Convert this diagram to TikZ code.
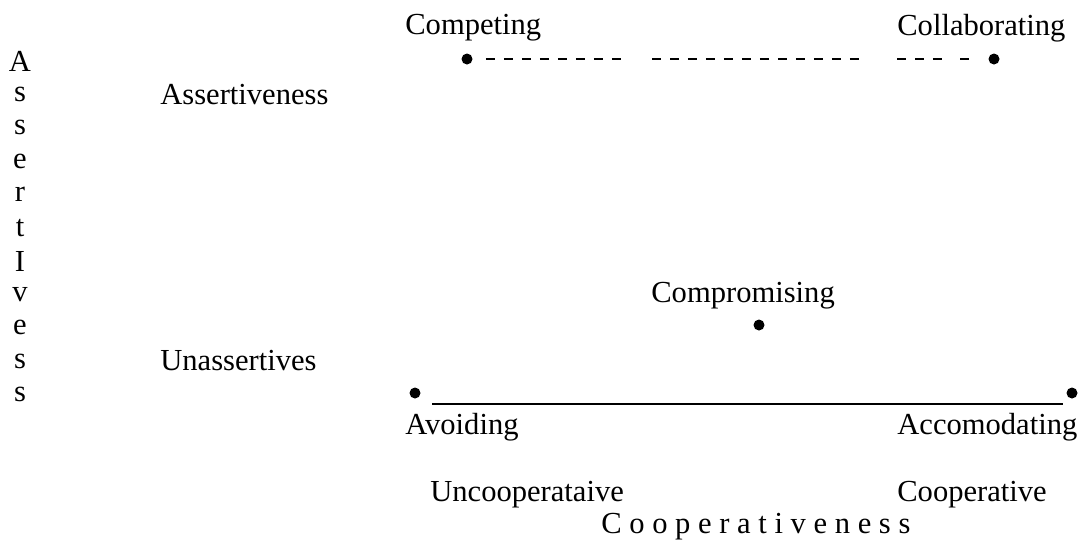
\documentclass[tikz,border=0pt]{standalone}
\usepackage{fontspec}
\setmainfont{Liberation Serif}
\usetikzlibrary{positioning}
\tikzset{
  lbl/.style    = {inner sep=0pt, anchor=west, font=\fontsize{17.4}{20}\selectfont},
  letter/.style = {inner sep=0pt, font=\fontsize{17.4}{20}\selectfont},
  pt/.style     = {circle, fill=black, inner sep=0pt, minimum size=0.22cm},
  dsh/.style    = {line width=1pt, dash pattern=on 0.18cm off 0.18cm},
  axis/.style   = {line width=1.2pt},
}

\begin{document}
\begin{tikzpicture}[x=0.02cm, y=-0.02cm]
  \useasboundingbox (0,0) rectangle (1083,539);

  % vertical axis word
  \foreach \l [count=\i] in {A,s,s,e,r,t,I,v,e,s,s}
    \node[letter] (v\i) at (20,28+33.3*\i) {\l};

  \node[lbl] (hi) at (160,95) {Assertiveness};
  \node[lbl] (lo) at (160,361) {Unassertives};

  % the five styles
  \node[pt] (comp) at (467,59) {};
  \node[pt] (coll) at (994,59) {};
  \node[pt] (avoi) at (415,393) {};
  \node[pt] (acco) at (1072,393) {};
  \node[pt] (compr) at (759,325) {};

  \node[lbl] (compL) at (405,28) {Competing};
  \node[lbl] (collL) at (897,28) {Collaborating};
  \node[lbl] (comprL) at (651,296) {Compromising};
  \node[lbl] (avoiL) at (405,427) {Avoiding};
  \node[lbl] (accoL) at (897,427) {Accomodating};

  \node[lbl] (unco) at (430,495) {Uncooperataive};
  \node[lbl] (coop) at (897,495) {Cooperative};
  \node[lbl] (cooX) at (601,527) {C o o p e r a t i v e n e s s};

  % dashed top line, in pieces
  \coordinate (d1) at (622,59);
  \coordinate (d2) at (652,59);
  \coordinate (d3) at (860,59);
  \coordinate (d4) at (897,59);
  \coordinate (d5) at (943,59);
  \coordinate (d6) at (960,59);
  \draw[dsh] ([xshift=0.38cm]comp.center) -- (d1);
  \draw[dsh] (d2) -- (d3);
  \draw[dsh] (d4) -- (d5);
  \draw[dsh] (d6) -- ([xshift=-0.5cm]coll.center);

  % solid bottom line
  \coordinate (b1) at (432,404);
  \coordinate (b2) at (1063,404);
  \draw[axis] (b1) -- (b2);
\end{tikzpicture}
\end{document}
